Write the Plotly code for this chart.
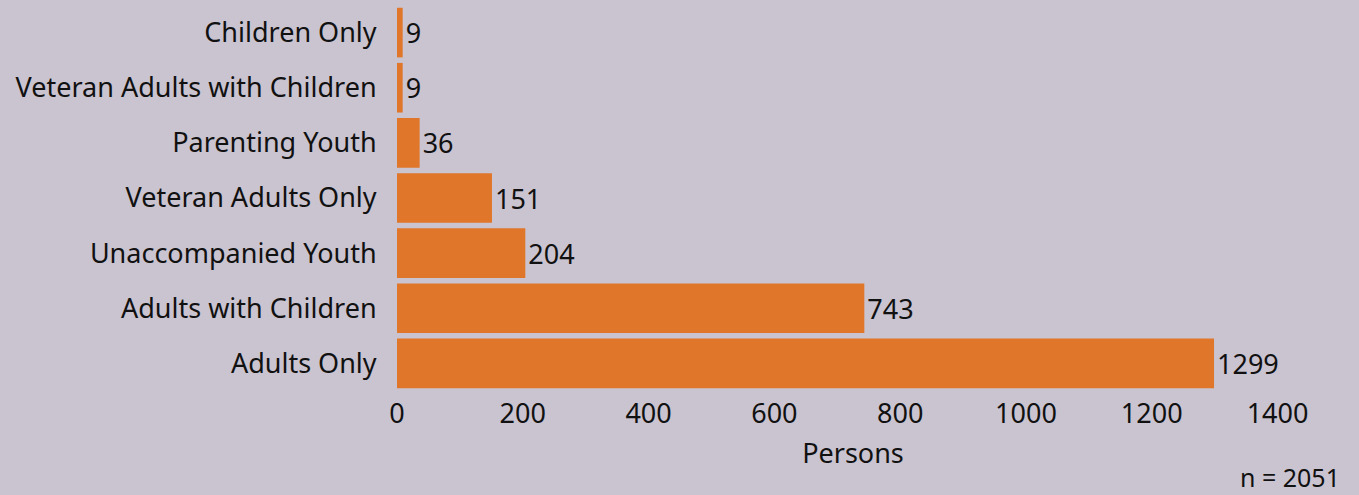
import plotly.graph_objects as go

categories = ["Adults Only", "Adults with Children", "Unaccompanied Youth",
              "Veteran Adults Only", "Parenting Youth",
              "Veteran Adults with Children", "Children Only"]
values = [1299, 743, 204, 151, 36, 9, 9]
tick_vals = [0, 200, 400, 600, 800, 1000, 1200, 1400]

BG = "#cac4d0"
BAR = "#e07629"
FONT = "Noto Sans"
FS = 27

fig = go.Figure(go.Bar(
    x=values, y=categories, orientation="h",
    marker=dict(color=BAR, line=dict(width=0)),
    text=[str(v) for v in values], textposition="outside",
    textfont=dict(family=FONT, size=FS, color="#111111"),
    cliponaxis=False, width=0.9,
))

fig.update_layout(
    width=1359, height=495,
    paper_bgcolor=BG, plot_bgcolor=BG,
    margin=dict(l=397, r=50, t=5, b=104, autoexpand=False),
    font=dict(family=FONT, size=FS, color="#111111"),
    showlegend=False,
    xaxis=dict(range=[0, 1450], tickvals=tick_vals, showgrid=False,
               zeroline=False, showline=False, ticks="",
               ticklabelstandoff=4,
               tickfont=dict(size=FS),
               title=dict(text="Persons", font=dict(size=FS), standoff=14)),
    yaxis=dict(showgrid=False, zeroline=False, showline=False, ticks="outside",
               ticklen=14, tickcolor="rgba(0,0,0,0)",
               tickfont=dict(size=FS), range=[-0.5, 6.5]),
    annotations=[dict(text="n = 2051", xref="paper", yref="paper",
                      x=1.036, y=-0.222, xanchor="right", yanchor="middle",
                      showarrow=False, font=dict(size=25, family=FONT))],
)

fig.write_html("out.html", config={"displayModeBar": False},
               post_script="document.body.style.margin='0';document.body.style.overflow='hidden';")
